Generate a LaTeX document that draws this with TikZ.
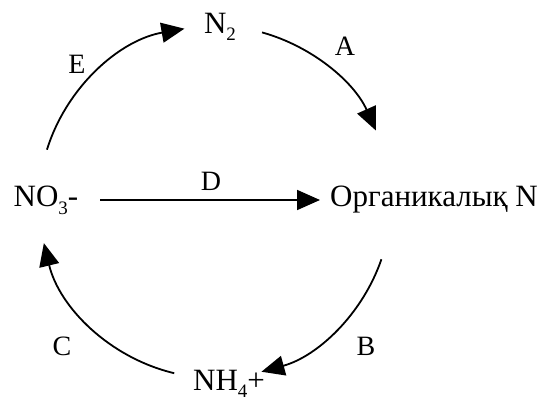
\documentclass[tikz,border=0pt]{standalone}
\usepackage{fontspec}
\setmainfont{Liberation Serif}
\usetikzlibrary{arrows.meta,calc}
\newcommand{\chemsub}[1]{\raisebox{-7pt}{\fontsize{19}{19}\selectfont #1}}
\begin{document}
\begin{tikzpicture}[x=1pt,y=1pt,
  lbl/.style={font=\fontsize{31}{33}\selectfont, inner sep=0pt, text height=21pt, text depth=7pt},
  letter/.style={font=\fontsize{28}{30}\selectfont, inner sep=0pt},
  arr/.style={line width=1.8pt, -{Triangle[length=23pt,width=20pt]}}]
\useasboundingbox (0,0) rectangle (557,-401);
\coordinate (ctr) at (215,-202);
\def\R{176}
% substance nodes
\node[lbl] (n2) at (220,-27) {N\chemsub{2}};
\node[lbl] (no3) at (46,-200) {NO\chemsub{3}-};
\node[lbl, anchor=west] (org) at (330,-200) {Органикалық N};
\node[lbl] (nh4) at (229,-383) {NH\chemsub{4}+};
% arc endpoints on the cycle
\coordinate (e1) at ($(ctr)+(162.7:\R)$);
\coordinate (a1) at ($(ctr)+(74.5:\R)$);
\coordinate (b1) at ($(ctr)+(-19:\R)$);
\coordinate (c1) at ($(ctr)+(-103.4:\R)$);
% connectors
\draw[arr] (e1) arc[start angle=162.7, end angle=100, radius=\R];
\draw[arr] (a1) arc[start angle=74.5, end angle=24, radius=\R];
\draw[arr] (b1) arc[start angle=-19, end angle=-74.7, radius=\R];
\draw[arr] (c1) arc[start angle=-103.4, end angle=-166.5, radius=\R];
\draw[arr, shorten <=22pt, shorten >=10pt] (no3.east) -- (org.west);
% reaction labels
\node[letter] (le) at (77,-64) {E};
\node[letter] (la) at (345,-46) {A};
\node[letter] (ld) at (211,-181) {D};
\node[letter] (lb) at (366,-346) {B};
\node[letter] (lc) at (62,-346) {C};
\end{tikzpicture}
\end{document}
